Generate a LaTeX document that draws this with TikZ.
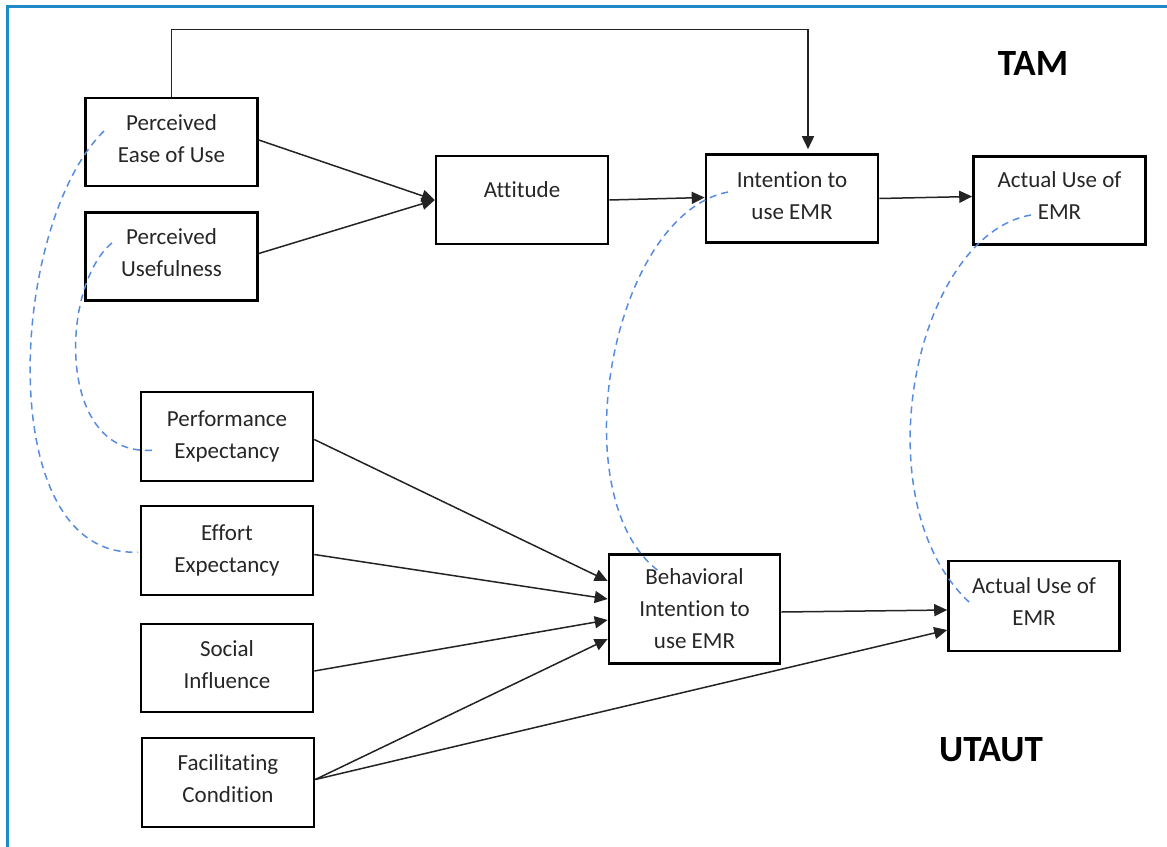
\documentclass[tikz,border=0pt]{standalone}
\usepackage{fontspec}
\setmainfont[Ligatures=NoCommon]{Carlito}
\usetikzlibrary{arrows.meta,calc}
\definecolor{frameblue}{RGB}{30,138,200}
\definecolor{dashblue}{RGB}{88,140,222}
\definecolor{linegray}{RGB}{35,35,35}
\newcommand{\lowstrut}[1][7pt]{\rule[-#1]{0pt}{#1}}
\tikzset{
  box/.style={draw=black, line width=2.6pt, minimum width=#1, inner sep=2pt, align=center,
              font=\fontsize{23}{32}\selectfont, text=black!85},
  box/.default={172pt},
  arr/.style={draw=linegray, line width=1.5pt, -{Triangle[length=13pt,width=12pt]}},
  link/.style={draw=dashblue, line width=1.5pt, dash pattern=on 7pt off 5pt},
  title/.style={font=\fontsize{37}{44}\selectfont\bfseries, text=black}
}
\begin{document}
\begin{tikzpicture}[x=1pt,y=-1pt]
\useasboundingbox (0,0) rectangle (1167,846);
\draw[frameblue, line width=3pt] (7,848) -- (7,6) -- (1169,6);

% TAM
\node[box, minimum height=88pt] (peou) at (171.5,142) {Perceived\\Ease of Use\lowstrut};
\node[box, minimum height=88pt] (pu) at (171.5,256.5) {Perceived\\Usefulness\lowstrut};
\node[box, minimum height=88pt, text depth=20pt] (att) at (522,200) {Attitude};
\node[box, minimum height=88pt] (int) at (792,198.5) {Intention to\\use EMR\lowstrut[5pt]};
\node[box, minimum height=88pt] (act1) at (1059.5,200.5) {Actual Use of\\EMR\lowstrut[9pt]};
\node[title] (tam) at (1033,64) {TAM};

% UTAUT
\node[box, minimum height=89pt] (pe) at (227,436.5) {Performance\\Expectancy\lowstrut[3pt]};
\node[box, minimum height=89pt] (ee) at (227,550.5) {Effort\\Expectancy\lowstrut[4pt]};
\node[box, minimum height=88pt] (si) at (227,668) {Social\\Influence\lowstrut[6pt]};
\node[box, minimum height=89pt] (fc) at (228,782.5) {Facilitating\\Condition\lowstrut[8pt]};
\node[box=171pt, minimum height=109pt] (bi) at (694.5,609) {Behavioral\\Intention to\\use EMR};
\node[box=171pt, minimum height=90pt] (act2) at (1034,606) {Actual Use of\\EMR\lowstrut[8pt]};
\node[title] (utaut) at (991,750) {UTAUT};

% TAM connectors
\draw[arr] ([yshift=2pt]peou.east) -- (att.west);
\draw[arr] ([yshift=3pt]pu.east) -- (att.west);
\draw[arr] (att.east) -- ([yshift=1pt]int.west);
\draw[arr] (int.east) -- ([yshift=4pt]act1.west);
\draw[arr] (peou.north) -- ++(0,-67) -| ([xshift=16pt,yshift=4pt]int.north);

% UTAUT connectors
\draw[arr] ([yshift=-3pt]pe.east) -- ([yshift=28pt]bi.west);
\draw[arr] ([yshift=-4pt]ee.east) -- ([yshift=10pt]bi.west);
\draw[arr] ([yshift=-3pt]si.east) -- ([yshift=-11pt]bi.west);
\draw[arr] ([yshift=3pt]fc.east) -- ([yshift=-30pt]bi.west);
\draw[arr] ([yshift=3pt]fc.east) -- ([yshift=-24pt]act2.west);
\draw[arr] ([yshift=-3pt]bi.east) -- ([yshift=-4pt]act2.west);

% dashed correspondences
\coordinate (d1a) at (104,131);
\coordinate (d1b) at (138,552);
\draw[link] (d1a) .. controls (8,225) and (-8,560) .. (d1b);
\coordinate (d2a) at (112,243);
\coordinate (d2b) at (155,450);
\draw[link] (d2a) .. controls (60,285) and (55,460) .. (d2b);
\coordinate (d3a) at (728,192);
\coordinate (d3b) at (660,572);
\draw[link] (d3a) .. controls (610,215) and (560,500) .. (d3b);
\coordinate (d4a) at (1031,215);
\coordinate (d4b) at (969,602);
\draw[link] (d4a) .. controls (915,235) and (860,500) .. (d4b);
\end{tikzpicture}
\end{document}
